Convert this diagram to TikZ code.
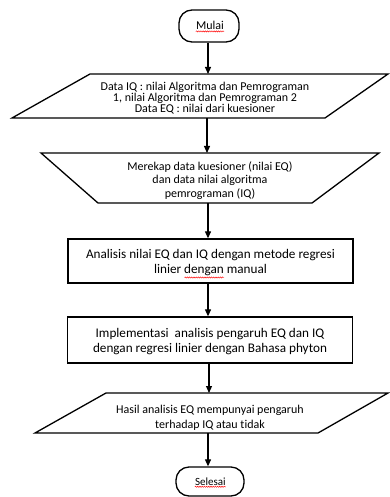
\documentclass[tikz,border=0pt]{standalone}
\usepackage{fontspec}
\setmainfont{Carlito}[Ligatures=NoCommon]
\usetikzlibrary{arrows.meta,decorations.pathmorphing}
\tikzset{
  shapeline/.style={draw=black, line width=1.3pt, line join=miter},
  arr/.style={draw=black, line width=1.1pt, -{Triangle[length=7pt,width=6pt]}},
  txt/.style={align=center, inner sep=0pt, text=black},
  term/.style={shapeline, rounded corners=13pt, inner sep=0pt},
  procbox/.style={shapeline, inner sep=0pt, minimum width=285pt, minimum height=44pt},
  spell/.style={draw=red, line width=0.45pt, decorate, decoration={snake, amplitude=0.6pt, segment length=2.2pt}},
}
\begin{document}
\begin{tikzpicture}[x=1pt,y=-1pt]
\useasboundingbox (0,0) rectangle (390,497);
% Start
\node[term, minimum width=60pt, minimum height=32pt] (mulai) at (209,26) {};
\node[txt, font=\fontsize{12}{14}\selectfont] (mulaitxt) at (210,25.5) {Mulai};
\draw[spell] ([yshift=-1.8pt]mulaitxt.base west) -- ([yshift=-1.8pt]mulaitxt.base east);
% Input data
\draw[shapeline] (90,74) -- (388,74) -- (325,118) -- (12,118) -- cycle;
\coordinate (p1top) at (208,74);
\coordinate (p1bot) at (207,118);
\node[txt, font=\fontsize{12}{11}\selectfont] (p1) at (205,98)
  {Data IQ : nilai Algoritma dan Pemrograman\\1, nilai Algoritma dan Pemrograman 2\\Data EQ : nilai dari kuesioner};
% Manual operation
\draw[shapeline] (41,153) -- (379,153) -- (312,203) -- (98,203) -- cycle;
\coordinate (t1top) at (207,153);
\coordinate (t1bot) at (208,203);
\node[txt, font=\fontsize{12}{13.5}\selectfont] (t1) at (210,180.5)
  {Merekap data kuesioner (nilai EQ)\\dan data nilai algoritma\\pemrograman (IQ)};
% Process 1
\node[procbox] (r1) at (210.5,261) {};
\node[txt, font=\fontsize{13.2}{15.6}\selectfont] (r1txt) at (210.5,262.5)
  {Analisis nilai EQ dan IQ dengan metode regresi\\linier dengan manual};
\coordinate (sp1a) at (184.5,277.5);
\coordinate (sp1b) at (224,277.5);
\draw[spell] (sp1a) -- (sp1b);
% Process 2
\node[procbox, minimum height=46pt] (r2) at (210,340) {};
\node[txt, font=\fontsize{13.2}{15}\selectfont] (r2txt) at (210,342)
  {Implementasi\ \ analisis pengaruh EQ dan IQ\\dengan regresi linier dengan Bahasa phyton};
% Output
\draw[shapeline] (106,393) -- (388,393) -- (318,433) -- (35,433) -- cycle;
\coordinate (p2top) at (209,393);
\coordinate (p2bot) at (208,433);
\node[txt, font=\fontsize{12}{14.8}\selectfont] (p2) at (210,417.5)
  {Hasil analisis EQ mempunyai pengaruh\\terhadap IQ atau tidak};
% End
\node[term, minimum width=68pt, minimum height=29pt] (selesai) at (210,481.5) {};
\node[txt, font=\fontsize{11}{13}\selectfont] (selesaitxt) at (210.4,481.4) {Selesai};
\draw[spell] ([yshift=-1.6pt]selesaitxt.base west) -- ([yshift=-1.6pt]selesaitxt.base east);
% Connectors
\draw[arr] (mulai.south -| p1top) -- (p1top);
\draw[arr] (p1bot) -- (t1top -| p1bot);
\draw[arr] (t1bot) -- (t1bot |- r1.north);
\draw[arr] (r1.south -| t1bot) -- (t1bot |- r2.north);
\draw[arr] (r2.south -| p2top) -- (p2top);
\draw[arr] (p2bot) -- (p2bot |- selesai.north);
\end{tikzpicture}
\end{document}
